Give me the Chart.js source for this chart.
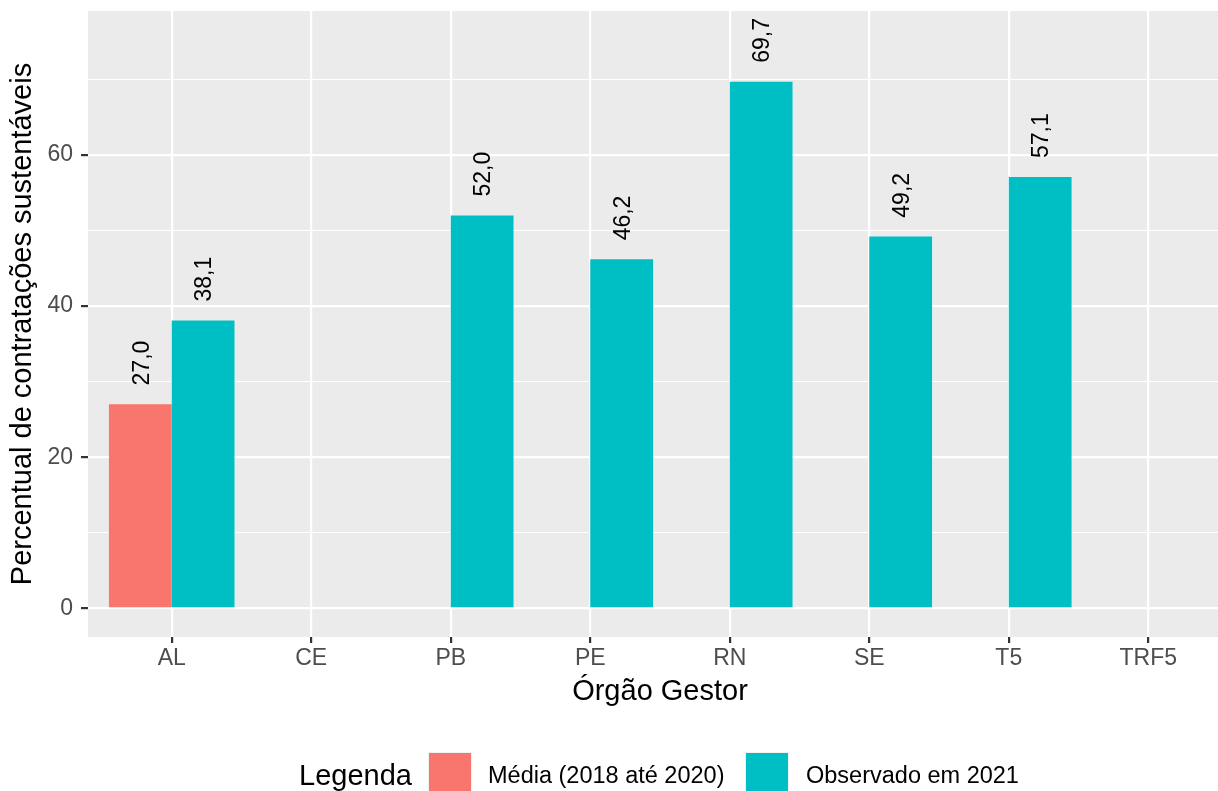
<!DOCTYPE html>
<html>
<head>
<meta charset="utf-8">
<script src="https://cdn.jsdelivr.net/npm/chart.js@4.4.1/dist/chart.umd.min.js"></script>
<style>
  html, body { margin: 0; padding: 0; background: #fff; overflow: hidden; }
  canvas { display: block; }
</style>
</head>
<body>
<canvas id="chart" width="1250" height="800"></canvas>
<script>
// ── DATA ──
const orgaos = ['AL', 'CE', 'PB', 'PE', 'RN', 'SE', 'T5', 'TRF5'];
const media = [27.0, null, null, null, null, null, null, null];
const observado = [38.1, null, 52.0, 46.2, 69.7, 49.2, 57.1, null];
const yTicks = [0, 10, 20, 30, 40, 50, 60, 70];
const seriesNames = ['Média (2018 até 2020)', 'Observado em 2021'];
const legendTitle = 'Legenda';

const FONT = '"Liberation Sans", Arial, sans-serif';
const colors = ['#F8766D', '#00BFC4'];

// ── PLUGINS ──
const panelBg = {
    id: 'panelBg',
    beforeDraw(chart) {
        const { ctx, chartArea: a } = chart;
        ctx.save();
        ctx.fillStyle = '#EBEBEB';
        ctx.fillRect(a.left, a.top, a.right - a.left, a.bottom - a.top);
        ctx.restore();
    }
};

const barLabels = {
    id: 'barLabels',
    afterDatasetsDraw(chart) {
        const ctx = chart.ctx, y = chart.scales.y;
        ctx.save();
        ctx.font = '23px ' + FONT;
        ctx.fillStyle = '#000';
        ctx.textAlign = 'left';
        ctx.textBaseline = 'alphabetic';
        chart.data.datasets.forEach((ds, di) => {
            chart.getDatasetMeta(di).data.forEach((bar, i) => {
                const v = ds.data[i].y;
                if (v == null) return;
                ctx.save();
                ctx.translate(bar.x, y.getPixelForValue(v + 2.5));
                ctx.rotate(-Math.PI / 2);
                ctx.fillText(v.toFixed(1).replace('.', ','), 0, 8.2);
                ctx.restore();
            });
        });
        ctx.restore();
    }
};

const ggLegend = {
    id: 'ggLegend',
    afterDraw(chart) {
        const ctx = chart.ctx;
        ctx.save();
        ctx.textBaseline = 'alphabetic';
        ctx.textAlign = 'left';
        ctx.fillStyle = '#000';
        ctx.font = '29px ' + FONT;
        ctx.fillText(legendTitle, 299, 785);
        const keys = [428, 745];
        const texts = [488, 806];
        ctx.font = '23.5px ' + FONT;
        seriesNames.forEach((name, i) => {
            ctx.fillStyle = '#F2F2F2';
            ctx.fillRect(keys[i], 752, 44, 44);
            ctx.fillStyle = colors[i];
            ctx.fillRect(keys[i] + 1, 753, 42, 42);
            ctx.fillStyle = '#000';
            ctx.fillText(name, texts[i], 783);
        });
        ctx.restore();
    }
};

// ── CHART ──
new Chart(document.getElementById('chart'), {
    type: 'bar',
    data: {
        datasets: [
            {
                label: seriesNames[0],
                data: media.map((v, i) => ({ x: i, y: v })),
                backgroundColor: colors[0],
                categoryPercentage: 0.9,
                barPercentage: 1,
            },
            {
                label: seriesNames[1],
                data: observado.map((v, i) => ({ x: i, y: v })),
                backgroundColor: colors[1],
                categoryPercentage: 0.9,
                barPercentage: 1,
            }
        ]
    },
    options: {
        responsive: false,
        animation: false,
        devicePixelRatio: 1,
        layout: { padding: { left: 0, right: 18, top: 11, bottom: 91 } },
        plugins: { legend: { display: false }, tooltip: { enabled: false } },
        scales: {
            x: {
                type: 'linear',
                min: -0.6,
                max: 7.6,
                offset: false,
                afterBuildTicks: s => { s.ticks = orgaos.map((_, i) => ({ value: i })); },
                afterFit: s => { s.height = 72; s.paddingLeft = 0; s.paddingRight = 0; },
                border: { display: false },
                grid: { offset: false, color: '#FFFFFF', lineWidth: 2.2, tickColor: '#333333', tickWidth: 2.2, tickLength: 6 },
                ticks: {
                    padding: 2,
                    color: '#4D4D4D',
                    font: { family: FONT, size: 23 },
                    maxRotation: 0,
                    autoSkip: false,
                    callback: v => orgaos[v]
                },
                title: {
                    display: true,
                    text: 'Órgão Gestor',
                    color: '#000',
                    font: { family: FONT, size: 29 },
                    padding: { top: 2, bottom: 0 }
                }
            },
            y: {
                min: -3.8,
                max: 79.06,
                afterBuildTicks: s => { s.ticks = yTicks.map(v => ({ value: v })); },
                afterFit: s => { s.width = 88; s.paddingTop = 0; s.paddingBottom = 0; },
                border: { display: false },
                grid: {
                    color: '#FFFFFF',
                    lineWidth: c => (c.tick && c.tick.value % 20 === 0) ? 2.2 : 1.1,
                    tickColor: c => (c.tick && c.tick.value % 20 === 0) ? '#333333' : 'rgba(0,0,0,0)',
                    tickWidth: 2.2,
                    tickLength: 7
                },
                ticks: {
                    padding: 8,
                    color: '#4D4D4D',
                    font: { family: FONT, size: 23 },
                    autoSkip: false,
                    callback: v => (v % 20 === 0 ? String(v) : '')
                },
                title: {
                    display: true,
                    text: 'Percentual de contratações sustentáveis',
                    color: '#000',
                    font: { family: FONT, size: 29 },
                    padding: { top: 6, bottom: 0 }
                }
            }
        }
    },
    plugins: [panelBg, barLabels, ggLegend]
});
</script>
</body>
</html>
